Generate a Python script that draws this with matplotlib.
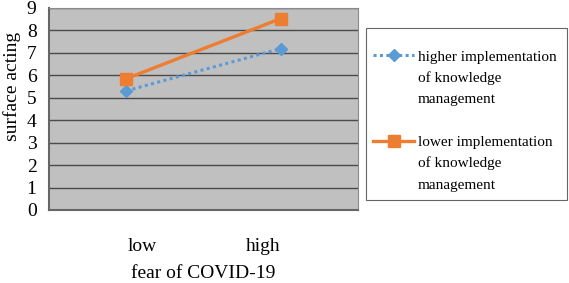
import matplotlib.pyplot as plt
import matplotlib.transforms as mtransforms
from matplotlib.lines import Line2D
from matplotlib.patches import Rectangle

categories = ["low", "high"]
higher_km = [5.31, 7.19]
lower_km = [5.85, 8.53]
higher_label = ["higher implementation", "of knowledge", "management"]
lower_label = ["lower implementation", "of knowledge", "management"]

plt.rcParams["font.family"] = ["Liberation Serif", "DejaVu Serif"]

fig = plt.figure(figsize=(5.69, 2.83), dpi=100)
ax = fig.add_axes([49 / 569, 1 - 210 / 283, 309 / 569, 202 / 283])
ax.set_facecolor("#c0c0c0")

x = range(len(categories))
l1, = ax.plot(x, higher_km, color="#5b9bd5", linestyle=(0, (1, 1.1)), linewidth=2.2,
              marker="D", markersize=6)
l2, = ax.plot(x, lower_km, color="#ed7d31", linewidth=2.4, marker="s", markersize=8)

ax.set_xlim(-0.5, 1.5)
ax.set_ylim(0, 9)
ax.set_yticks(range(10))
ax.yaxis.grid(True, color="#4a4a4a", linewidth=1)
ax.set_axisbelow(True)
ax.set_xticks(list(x))
ax.set_xticklabels(categories)
ax.tick_params(axis="both", length=0, labelsize=14)
ax.tick_params(axis="x", pad=20)
ax.tick_params(axis="y", pad=9)
# category labels sit a bit toward the middle in the original
for lab, dx in zip(ax.get_xticklabels(), [16, -18]):
    lab.set_transform(lab.get_transform() +
                      mtransforms.ScaledTranslation(dx / 100, 0, fig.dpi_scale_trans))
for s in ["top", "right"]:
    ax.spines[s].set_color("#8a8a8a")
for s in ["left", "bottom"]:
    ax.spines[s].set_color("#666666")
    ax.spines[s].set_linewidth(1.5)

ax.set_ylabel("surface acting", fontsize=14)
ax.yaxis.set_label_coords(-0.09, 0.61)
ax.set_xlabel("fear of COVID-19", fontsize=14, labelpad=7)

blank = Line2D([], [], color="none")
handles = [l1, blank, blank, blank, l2, blank, blank]
labels = higher_label + [" "] + lower_label
fig.patches.append(Rectangle((366 / 569, 1 - 200 / 283), 201 / 569, 172 / 283,
                             transform=fig.transFigure, facecolor="white",
                             edgecolor="#666666", linewidth=0.8))
leg = fig.legend(handles, labels, loc="upper left",
                 bbox_to_anchor=(366 / 569, 1 - 43 / 283), fontsize=11,
                 frameon=False, handlelength=2.7, labelspacing=0.5,
                 borderpad=0.0, borderaxespad=0.45, handletextpad=0.25)

fig.savefig("out.png", dpi=100)
